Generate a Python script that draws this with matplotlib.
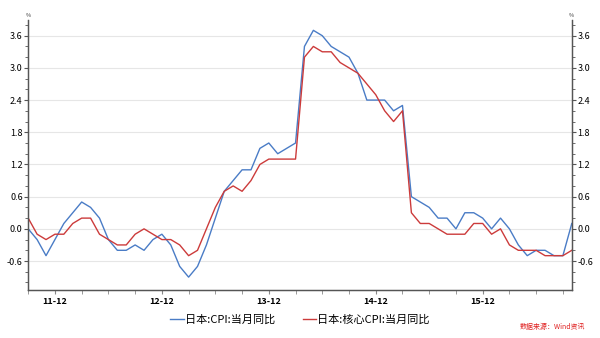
import numpy as np
import pandas as pd
import matplotlib
matplotlib.use('Agg')
import matplotlib.pyplot as plt
from matplotlib.ticker import MultipleLocator, FixedLocator

plt.rcParams['font.family'] = ['Noto Sans CJK SC', 'DejaVu Sans']

months = pd.period_range('2011-09', '2016-10', freq='M')
cpi = [0.0, -0.2, -0.5, -0.2, 0.1, 0.3, 0.5, 0.4, 0.2, -0.2, -0.4, -0.4,
       -0.3, -0.4, -0.2, -0.1, -0.3, -0.7, -0.9, -0.7, -0.3, 0.2, 0.7, 0.9,
       1.1, 1.1, 1.5, 1.6, 1.4, 1.5, 1.6, 3.4, 3.7, 3.6, 3.4, 3.3,
       3.2, 2.9, 2.4, 2.4, 2.4, 2.2, 2.3, 0.6, 0.5, 0.4, 0.2, 0.2,
       0.0, 0.3, 0.3, 0.2, 0.0, 0.2, 0.0, -0.3, -0.5, -0.4, -0.4, -0.5,
       -0.5, 0.1]
core_cpi = [0.2, -0.1, -0.2, -0.1, -0.1, 0.1, 0.2, 0.2, -0.1, -0.2, -0.3, -0.3,
            -0.1, 0.0, -0.1, -0.2, -0.2, -0.3, -0.5, -0.4, 0.0, 0.4, 0.7, 0.8,
            0.7, 0.9, 1.2, 1.3, 1.3, 1.3, 1.3, 3.2, 3.4, 3.3, 3.3, 3.1,
            3.0, 2.9, 2.7, 2.5, 2.2, 2.0, 2.2, 0.3, 0.1, 0.1, 0.0, -0.1,
            -0.1, -0.1, 0.1, 0.1, -0.1, 0.0, -0.3, -0.4, -0.4, -0.4, -0.5, -0.5,
            -0.5, -0.4]
series_names = ['日本:CPI:当月同比', '日本:核心CPI:当月同比']
yticks = [-0.6, 0.0, 0.6, 1.2, 1.8, 2.4, 3.0, 3.6]

x = np.arange(len(months))
label_idx = [i for i, m in enumerate(months) if m.month == 12]
labels = [months[i].strftime('%y-%m') for i in label_idx]

fig = plt.figure(figsize=(6, 3.38), dpi=100)
ax = fig.add_axes([0.047, 0.142, 0.906, 0.80])
ax.plot(x, cpi, color='#4a7cc6', lw=1.0, label=series_names[0])
ax.plot(x, core_cpi, color='#cc3b3b', lw=1.0, label=series_names[1])

ax.set_xlim(0, len(months) - 1)
ax.set_ylim(-1.14, 3.9)
ax.set_yticks(yticks)
ax.set_yticklabels([f'{v:.1f}' for v in yticks])
ax.yaxis.set_minor_locator(MultipleLocator(0.2))
ax.grid(axis='y', color='#e6e6e6', lw=0.8)
ax.set_axisbelow(True)

ax.xaxis.set_major_locator(FixedLocator(label_idx))
ax.set_xticklabels(labels)
ax.xaxis.set_minor_locator(FixedLocator(range(0, len(months), 3)))

for s in ['top']:
    ax.spines[s].set_visible(False)
for s in ['left', 'right', 'bottom']:
    ax.spines[s].set_color('#555555')
    ax.spines[s].set_linewidth(0.9)

ax.tick_params(axis='y', which='major', labelsize=6.5, length=3, color='#555555', pad=1)
ax.tick_params(axis='y', which='minor', length=2, color='#555555')
ax.tick_params(axis='x', which='both', length=3, color='#888888', labelsize=6.5, pad=2)
for t in ax.get_xticklabels():
    t.set_fontweight('bold')

ax2 = ax.twinx()
ax2.set_ylim(ax.get_ylim())
ax2.set_yticks(yticks)
ax2.set_yticklabels([f'{v:.1f}' for v in yticks])
ax2.yaxis.set_minor_locator(MultipleLocator(0.2))
ax2.tick_params(axis='y', which='major', labelsize=6.5, length=3, color='#555555', pad=1)
ax2.tick_params(axis='y', which='minor', length=2, color='#555555')
ax2.spines['top'].set_visible(False)
for s in ['left', 'right', 'bottom']:
    ax2.spines[s].set_color('#555555')
    ax2.spines[s].set_linewidth(0.9)

fig.text(0.047, 0.955, '%', fontsize=4, ha='center', va='center', color='#333333')
fig.text(0.953, 0.955, '%', fontsize=4, ha='center', va='center', color='#333333')

fig.legend(loc='center', bbox_to_anchor=(0.5, 0.055), ncol=2, frameon=False,
           fontsize=8, handlelength=1.2, handletextpad=0.1, columnspacing=2.5)
fig.text(0.975, 0.02, '数据来源：Wind资讯', fontsize=5, color='#e02020',
         ha='right', va='bottom', style='italic')

fig.savefig('out.png', dpi=100)
